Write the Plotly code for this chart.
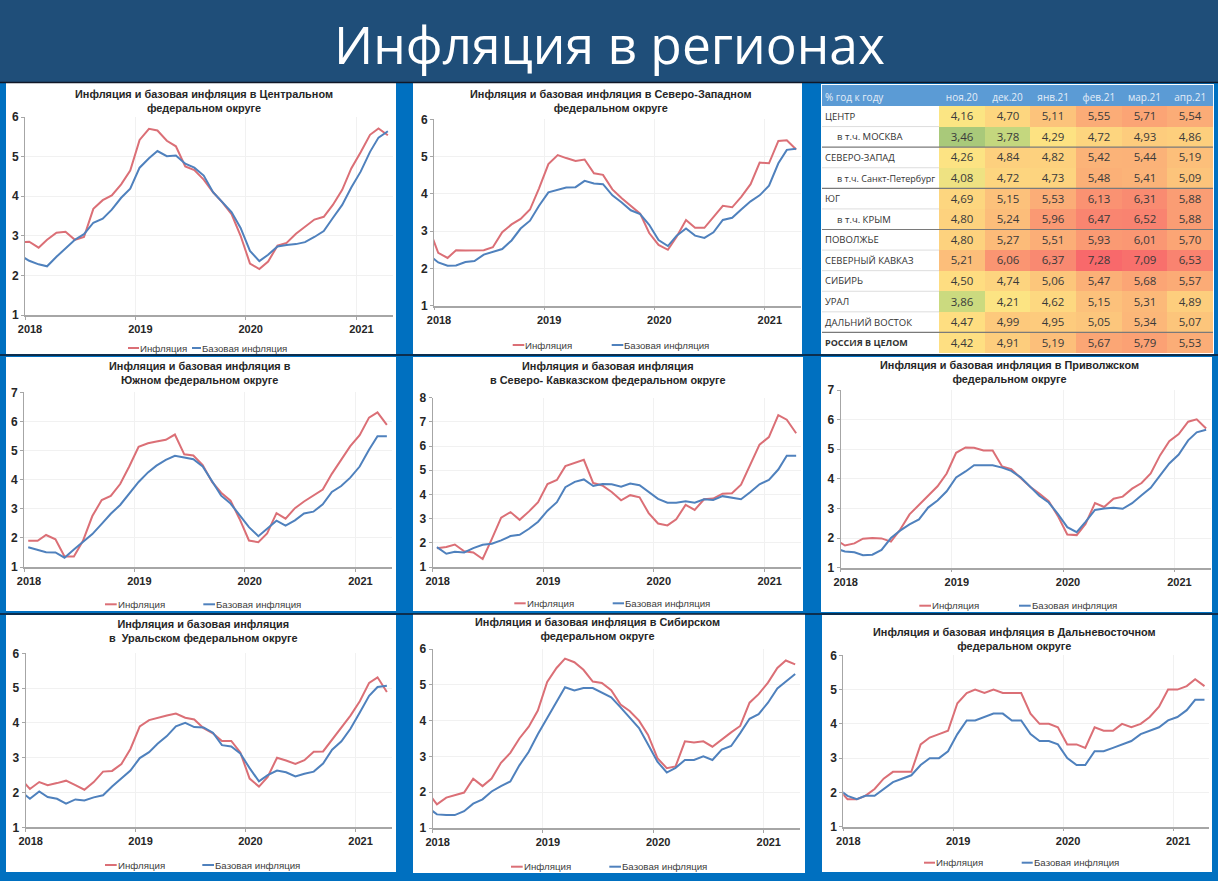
import pandas as pd
import plotly.graph_objects as go

W, H = 1218, 881
CHART_FONT = "Liberation Sans"
TABLE_FONT = "Open Sans"
RED = "#DB6F76"
BLUE = "#4F81BD"

# ── Data ───────────────────────────────────────────────────────────────────────
# monthly, Dec 2017 .. Apr 2021; Dec 2017 only shows as the clipped line start
MONTHS = pd.date_range("2017-12-15", periods=41, freq=pd.DateOffset(months=1))

INFL_CENTER = [2.83, 2.85, 2.70, 2.90, 3.08, 3.10, 2.90, 2.97, 3.68, 3.90, 4.02, 4.30, 4.65,
               5.42, 5.70, 5.66, 5.40, 5.26, 4.75, 4.66, 4.42, 4.10, 3.85, 3.55, 3.00,
               2.30, 2.16, 2.35, 2.75, 2.82, 3.05, 3.23, 3.41, 3.48, 3.78, 4.16, 4.70,
               5.11, 5.55, 5.71, 5.54]
CORE_CENTER = [2.51, 2.37, 2.28, 2.23, 2.47, 2.67, 2.90, 3.04, 3.33, 3.43, 3.66, 3.96, 4.19,
               4.72, 4.96, 5.14, 5.01, 5.03, 4.82, 4.72, 4.52, 4.10, 3.85, 3.60, 3.20,
               2.62, 2.36, 2.52, 2.73, 2.77, 2.79, 2.84, 2.97, 3.12, 3.45, 3.78, 4.22,
               4.62, 5.12, 5.48, 5.64]

INFL_NW = [3.08, 2.42, 2.28, 2.49, 2.48, 2.49, 2.49, 2.57, 2.97, 3.18, 3.33, 3.58, 4.15,
           4.80, 5.04, 4.96, 4.88, 4.92, 4.55, 4.51, 4.12, 3.88, 3.68, 3.47, 2.95,
           2.63, 2.50, 2.85, 3.30, 3.09, 3.09, 3.38, 3.68, 3.64, 3.92, 4.26, 4.84,
           4.82, 5.42, 5.44, 5.19]
CORE_NW = [2.36, 2.16, 2.07, 2.08, 2.17, 2.20, 2.37, 2.44, 2.52, 2.75, 3.07, 3.28, 3.68,
           4.04, 4.10, 4.17, 4.18, 4.35, 4.28, 4.26, 3.96, 3.77, 3.56, 3.46, 3.17,
           2.76, 2.60, 2.88, 3.07, 2.88, 2.82, 2.97, 3.30, 3.36, 3.58, 3.80, 3.96,
           4.22, 4.82, 5.18, 5.21]

INFL_SOUTH = [None, 1.90, 1.90, 2.10, 1.95, 1.36, 1.36, 1.90, 2.75, 3.30, 3.44, 3.85, 4.45,
              5.13, 5.25, 5.31, 5.37, 5.55, 4.87, 4.83, 4.50, 3.92, 3.55, 3.28, 2.65,
              1.91, 1.85, 2.15, 2.85, 2.66, 3.02, 3.25, 3.47, 3.66, 4.20, 4.69, 5.15,
              5.53, 6.13, 6.31, 5.88]
CORE_SOUTH = [None, 1.68, 1.58, 1.51, 1.50, 1.32, 1.60, 1.85, 2.13, 2.48, 2.83, 3.13, 3.50,
              3.92, 4.25, 4.48, 4.68, 4.82, 4.76, 4.70, 4.45, 3.92, 3.45, 3.18, 2.78,
              2.37, 2.06, 2.32, 2.59, 2.42, 2.60, 2.84, 2.90, 3.15, 3.58, 3.78, 4.07,
              4.45, 5.03, 5.49, 5.49]

INFL_CAUCASUS = [None, 1.78, 1.83, 1.93, 1.65, 1.60, 1.33, 2.15, 3.04, 3.27, 2.95, 3.30, 3.68,
                 4.43, 4.60, 5.17, 5.30, 5.43, 4.47, 4.37, 4.10, 3.76, 3.97, 3.88, 3.23,
                 2.80, 2.72, 2.97, 3.57, 3.36, 3.80, 3.83, 4.03, 4.05, 4.40, 5.21, 6.06,
                 6.37, 7.28, 7.09, 6.53]
CORE_CAUCASUS = [None, 1.82, 1.55, 1.63, 1.60, 1.78, 1.92, 1.96, 2.10, 2.28, 2.33, 2.58, 2.87,
                 3.33, 3.68, 4.30, 4.52, 4.62, 4.35, 4.43, 4.42, 4.32, 4.45, 4.38, 4.10,
                 3.82, 3.66, 3.66, 3.72, 3.66, 3.80, 3.77, 3.93, 3.86, 3.80, 4.10, 4.42,
                 4.60, 5.03, 5.60, 5.60]

INFL_VOLGA = [1.95, 1.75, 1.82, 1.98, 2.00, 1.99, 1.88, 2.28, 2.80, 3.12, 3.42, 3.75, 4.18,
              4.88, 5.06, 5.05, 4.96, 4.96, 4.42, 4.33, 4.03, 3.73, 3.50, 3.25, 2.75,
              2.12, 2.10, 2.48, 3.18, 3.05, 3.33, 3.40, 3.67, 3.86, 4.18, 4.80, 5.27,
              5.51, 5.93, 6.01, 5.70]
CORE_VOLGA = [1.65, 1.55, 1.52, 1.42, 1.44, 1.60, 2.00, 2.25, 2.46, 2.63, 3.03, 3.27, 3.58,
              4.05, 4.25, 4.46, 4.46, 4.46, 4.38, 4.27, 4.05, 3.72, 3.43, 3.20, 2.82,
              2.37, 2.20, 2.55, 2.95, 3.00, 3.02, 2.99, 3.18, 3.45, 3.70, 4.12, 4.52,
              4.82, 5.30, 5.57, 5.66]

INFL_URAL = [2.40, 2.10, 2.30, 2.21, 2.27, 2.34, 2.21, 2.08, 2.30, 2.60, 2.62, 2.82, 3.25,
             3.90, 4.08, 4.15, 4.21, 4.27, 4.15, 4.10, 3.85, 3.70, 3.48, 3.48, 3.15,
             2.40, 2.17, 2.45, 3.00, 2.92, 2.82, 2.93, 3.17, 3.18, 3.52, 3.86, 4.21,
             4.62, 5.15, 5.31, 4.89]
CORE_URAL = [2.04, 1.82, 2.03, 1.87, 1.82, 1.68, 1.80, 1.77, 1.86, 1.92, 2.17, 2.40, 2.63,
             2.99, 3.16, 3.40, 3.62, 3.90, 4.00, 3.88, 3.87, 3.72, 3.36, 3.32, 3.12,
             2.70, 2.32, 2.50, 2.63, 2.58, 2.46, 2.54, 2.60, 2.83, 3.23, 3.47, 3.83,
             4.30, 4.78, 5.03, 5.07]

INFL_SIBERIA = [2.00, 1.66, 1.85, 1.92, 1.99, 2.38, 2.17, 2.38, 2.82, 3.10, 3.50, 3.83, 4.28,
                5.08, 5.47, 5.73, 5.63, 5.42, 5.09, 5.05, 4.85, 4.45, 4.27, 4.00, 3.60,
                2.95, 2.67, 2.72, 3.42, 3.39, 3.42, 3.27, 3.48, 3.67, 3.85, 4.50, 4.74,
                5.06, 5.47, 5.68, 5.57]
CORE_SIBERIA = [1.58, 1.38, 1.36, 1.36, 1.47, 1.68, 1.80, 2.02, 2.17, 2.30, 2.75, 3.13, 3.62,
                4.08, 4.53, 4.93, 4.84, 4.91, 4.91, 4.79, 4.65, 4.37, 4.08, 3.79, 3.33,
                2.85, 2.55, 2.68, 2.90, 2.90, 3.00, 2.90, 3.19, 3.29, 3.65, 4.05, 4.18,
                4.50, 4.90, 5.10, 5.30]

INFL_FAR_EAST = [2.1, 1.8, 1.8, 1.9, 2.1, 2.4, 2.6, 2.6, 2.6, 3.4, 3.6, 3.7, 3.8,
                 4.6, 4.9, 5.0, 4.9, 5.0, 4.9, 4.9, 4.9, 4.3, 4.0, 4.0, 3.9,
                 3.4, 3.4, 3.3, 3.9, 3.8, 3.8, 4.0, 3.9, 4.0, 4.2, 4.5, 5.0,
                 5.0, 5.1, 5.3, 5.1]
CORE_FAR_EAST = [2.1, 1.9, 1.8, 1.9, 1.9, 2.1, 2.3, 2.4, 2.5, 2.8, 3.0, 3.0, 3.2,
                 3.7, 4.1, 4.1, 4.2, 4.3, 4.3, 4.1, 4.1, 3.7, 3.5, 3.5, 3.4,
                 3.0, 2.8, 2.8, 3.2, 3.2, 3.3, 3.4, 3.5, 3.7, 3.8, 3.9, 4.1,
                 4.2, 4.4, 4.7, 4.7]

TABLE_MONTHS = ["ноя.20", "дек.20", "янв.21", "фев.21", "мар.21", "апр.21"]
TABLE_REGIONS = ["ЦЕНТР", "в т.ч. МОСКВА", "СЕВЕРО-ЗАПАД", "в т.ч. Санкт-Петербург", "ЮГ", "в т.ч. КРЫМ",
                 "ПОВОЛЖЬЕ", "СЕВЕРНЫЙ КАВКАЗ", "СИБИРЬ", "УРАЛ", "ДАЛЬНИЙ ВОСТОК", "РОССИЯ В ЦЕЛОМ"]
TABLE_VALUES = [
    [4.16, 4.70, 5.11, 5.55, 5.71, 5.54],
    [3.46, 3.78, 4.29, 4.72, 4.93, 4.86],
    [4.26, 4.84, 4.82, 5.42, 5.44, 5.19],
    [4.08, 4.72, 4.73, 5.48, 5.41, 5.09],
    [4.69, 5.15, 5.53, 6.13, 6.31, 5.88],
    [4.80, 5.24, 5.96, 6.47, 6.52, 5.88],
    [4.80, 5.27, 5.51, 5.93, 6.01, 5.70],
    [5.21, 6.06, 6.37, 7.28, 7.09, 6.53],
    [4.50, 4.74, 5.06, 5.47, 5.68, 5.57],
    [3.86, 4.21, 4.62, 5.15, 5.31, 4.89],
    [4.47, 4.99, 4.95, 5.05, 5.34, 5.07],
    [4.42, 4.91, 5.19, 5.67, 5.79, 5.53],
]
HEAT_STOPS = [(3.46, "#A9C97A"), (3.86, "#CBDA7F"), (4.16, "#FBE583"), (4.4, "#FEE082"), (4.8, "#FDD27E"),
              (5.2, "#FCBF7A"), (5.6, "#FBA976"), (6.1, "#FA9372"), (6.5, "#F98470"), (7.28, "#F8696B")]

# ── Layout, all in pixels of the reference ─────────────────────────────────────
# white card (x0, x1, y0, y1), plot area (x0, x1, y_top, y_bottom), y max,
# title centre and line y, legend (red x0, red x1, blue x0, blue x1, y)
PANELS = [
    dict(infl=INFL_CENTER, core=CORE_CENTER, ymax=6, card=(6, 396, 83, 354), plot=(25, 392.7, 117, 315),
         title="Инфляция и базовая инфляция в Центральном<br>федеральном округе", tc=(204, 100.5),
         leg=(128, 139, 192, 201, 348)),
    dict(infl=INFL_NW, core=CORE_NW, ymax=6, card=(413, 802, 83, 354), plot=(434, 801, 119.3, 305.7),
         title="Инфляция и базовая инфляция в Северо-Западном<br>федеральном округе", tc=(610, 100.5),
         leg=(512.7, 524.3, 611.7, 623.3, 345)),
    dict(infl=INFL_SOUTH, core=CORE_SOUTH, ymax=7, card=(6, 396, 357, 611), plot=(24, 391.7, 392.3, 567),
         title="Инфляция и базовая инфляция в<br>Южном федеральном округе", tc=(200, 373.5),
         leg=(105, 116.7, 203.3, 215, 604.3)),
    dict(infl=INFL_CAUCASUS, core=CORE_CAUCASUS, ymax=8, card=(413, 803, 357, 611), plot=(432.7, 801, 397.7, 567),
         title="Инфляция и базовая инфляция<br>в Северо- Кавказском федеральном округе", tc=(608, 373.5),
         leg=(514.3, 525.7, 612.7, 624, 603.3)),
    dict(infl=INFL_VOLGA, core=CORE_VOLGA, ymax=7, card=(821, 1212, 357, 612), plot=(840.7, 1211, 390, 567.7),
         title="Инфляция и базовая инфляция в Приволжском<br>федеральном округе", tc=(1009, 372),
         leg=(919.3, 931, 1019, 1030.7, 605.7)),
    dict(infl=INFL_URAL, core=CORE_URAL, ymax=6, card=(6, 396, 615, 872), plot=(25.7, 391.7, 653.3, 827.3),
         title="Инфляция и базовая инфляция<br>в  Уральском федеральном округе", tc=(203, 630.5),
         leg=(105, 116.7, 202.3, 214, 865)),
    dict(infl=INFL_SIBERIA, core=CORE_SIBERIA, ymax=6, card=(413, 805, 614, 873), plot=(432.7, 800, 649, 828),
         title="Инфляция и базовая инфляция в Сибирском<br>федеральном округе", tc=(597, 629),
         leg=(511, 522.7, 609.3, 621, 866.7)),
    dict(infl=INFL_FAR_EAST, core=CORE_FAR_EAST, ymax=6, card=(822, 1212, 615, 872), plot=(843.3, 1209.3, 655.3, 826.7),
         title="Инфляция и базовая инфляция в Дальневосточном<br>федеральном округе", tc=(1014, 638.5),
         leg=(924, 935, 1021.7, 1032.7, 862.7)),
]
TABLE_X = (822, 939, 1213)
TABLE_Y = (85, 106, 353)


def px(x):
    return x / W


def py(y):
    return 1 - y / H


def rect(x0, x1, y0, y1, color, layer="below"):
    return dict(type="rect", xref="paper", yref="paper", x0=px(x0), x1=px(x1), y0=py(y0), y1=py(y1),
                fillcolor=color, line_width=0, layer=layer)


def hline(x0, x1, y, color, width=1):
    return dict(type="line", xref="paper", yref="paper", x0=px(x0), x1=px(x1), y0=py(y), y1=py(y),
                line=dict(color=color, width=width))


def label(text, x, y, font, xanchor="center"):
    return dict(text=text, xref="paper", yref="paper", x=px(x), y=py(y), xanchor=xanchor, yanchor="middle",
                showarrow=False, align="center", font=font)


fig = go.Figure()
shapes = [rect(0, W, 0, 82, "#1F4E79")]
shapes += [hline(0, W, y, "#101828", 1.5) for y in (82.5, 355, 614)]
annotations = [label("Инфляция в регионах", 609, 44, dict(family="Open Sans", size=51.5, color="white"))]
axes = {}

# ── Line panels ────────────────────────────────────────────────────────────────
for n, p in enumerate(PANELS, start=1):
    x0, x1, y_top, y_bot = p["plot"]
    xname = "x" if n == 1 else f"x{n}"
    yname = "y" if n == 1 else f"y{n}"
    fig.add_trace(go.Scatter(x=MONTHS, y=p["infl"], name="Инфляция", mode="lines", xaxis=xname, yaxis=yname,
                             line=dict(color=RED, width=2), showlegend=False))
    fig.add_trace(go.Scatter(x=MONTHS, y=p["core"], name="Базовая инфляция", mode="lines", xaxis=xname, yaxis=yname,
                             line=dict(color=BLUE, width=2), showlegend=False))

    axes[xname.replace("x", "xaxis")] = dict(
        type="date", domain=[px(x0), px(x1)], anchor=yname, range=["2018-01-01", "2021-05-01"],
        tick0="2018-01-01", dtick="M12", tickformat="%Y", ticklabelshift=5,
        showgrid=True, gridcolor="#F1F1F1", gridwidth=1, showline=True, linecolor="#A6A6A6", linewidth=1.5,
        ticks="outside", ticklen=3, tickcolor="#A6A6A6",
        tickfont=dict(family=CHART_FONT, size=11, color="#262626", weight="bold"))
    axes[yname.replace("y", "yaxis")] = dict(
        domain=[py(y_bot), py(y_top)], anchor=xname, range=[1, p["ymax"]], dtick=1,
        showgrid=True, gridcolor="#F1F1F1", gridwidth=1, showline=True, linecolor="#A6A6A6", linewidth=1,
        ticks="outside", ticklen=3, tickcolor="#A6A6A6", zeroline=False,
        tickfont=dict(family=CHART_FONT, size=12, color="#262626", weight="bold"))

    cx0, cx1, cy0, cy1 = p["card"]
    shapes.append(rect(cx0, cx1, cy0, cy1, "white"))
    annotations.append(label(f"<b>{p['title']}</b>", p["tc"][0], p["tc"][1],
                             dict(family=CHART_FONT, size=10.9, color="#262626")))
    r0, r1, b0, b1, ly = p["leg"]
    shapes.append(hline(r0, r1, ly, RED, 2))
    shapes.append(hline(b0, b1, ly, BLUE, 2))
    for text, tx in (("Инфляция", r1), ("Базовая инфляция", b1)):
        annotations.append(label(text, tx - 1, ly, dict(family=CHART_FONT, size=9.7, color="#404040"), "left"))

# ── Heat table ─────────────────────────────────────────────────────────────────
t0, t_mid, t1 = TABLE_X
h0, h1, h2 = TABLE_Y
shapes.append(rect(t0 - 1, t1 + 1, h0 - 1, h2 + 1, "white"))
shapes.append(rect(t0, t1, h0, h1, "#5B9BD5"))

lo, hi = HEAT_STOPS[0][0], HEAT_STOPS[-1][0]
heat_scale = [[(v - lo) / (hi - lo), c] for v, c in HEAT_STOPS]
cell_text = [[f"{v:.2f}".replace(".", ",") for v in row] for row in TABLE_VALUES]
fig.add_trace(go.Heatmap(z=TABLE_VALUES, x=TABLE_MONTHS, y=TABLE_REGIONS, text=cell_text, texttemplate="%{text}",
                         textfont=dict(family=TABLE_FONT, size=11.5, color="#3A3A3A"),
                         colorscale=heat_scale, zmin=lo, zmax=hi, showscale=False, xaxis="x9", yaxis="y9"))
axes["xaxis9"] = dict(domain=[px(t_mid), px(t1)], anchor="y9", side="top", showgrid=False, zeroline=False,
                      ticks="", ticklabelstandoff=2, tickfont=dict(family=TABLE_FONT, size=10, color="#E4EDF7"))
axes["yaxis9"] = dict(domain=[py(h2), py(h1)], anchor="x9", autorange="reversed", showticklabels=False,
                      showgrid=False, zeroline=False, ticks="")

row_h = (h2 - h1) / len(TABLE_REGIONS)
annotations.append(label("% год к году", 822.5, (h0 + h1) / 2 + 1.5,
                         dict(family=TABLE_FONT, size=10, color="#E4EDF7"), "left"))
for i, region in enumerate(TABLE_REGIONS):
    indent = 834.5 if region.startswith("в т.ч.") else 822.5
    text = f"<b>{region}</b>" if region == "РОССИЯ В ЦЕЛОМ" else region
    size = 9 if region in ("РОССИЯ В ЦЕЛОМ", "в т.ч. Санкт-Петербург") else 9.5
    annotations.append(label(text, indent, h1 + (i + 0.5) * row_h,
                             dict(family=TABLE_FONT, size=size, color="#333333"), "left"))
    if i == 0:
        continue
    if i in (2, 4, 6, 11):
        shapes.append(hline(t0, t1, h1 + i * row_h, "#7A7A7A", 1.2))
    else:
        shapes.append(hline(t0, t_mid, h1 + i * row_h, "#DDDDDD", 1))

fig.update_layout(
    width=W, height=H, margin=dict(l=0, r=0, t=0, b=0, autoexpand=False), paper_bgcolor="#0070C0",
    plot_bgcolor="rgba(0,0,0,0)", shapes=shapes, annotations=annotations, showlegend=False, **axes)

fig.write_html("out.html", config={"displayModeBar": False},
               post_script="document.body.style.margin='0';document.body.style.overflow='hidden';")
